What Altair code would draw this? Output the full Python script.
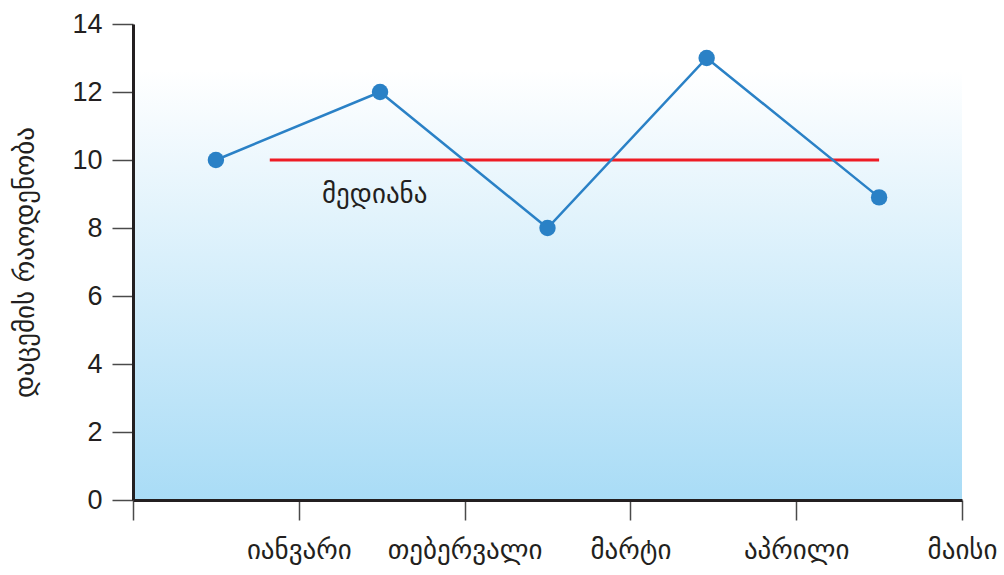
import altair as alt
import pandas as pd

months = ["იანვარი", "თებერვალი", "მარტი", "აპრილი", "მაისი"]
x_pos = [0.5, 1.49, 2.5, 3.46, 4.5]
falls = [10, 12, 8, 13, 8.9]
median_value = 10
median_start, median_end = 0.825, 4.5
median_label = "მედიანა"
y_title = "დაცემის რაოდენობა"

df = pd.DataFrame({"x": x_pos, "y": falls, "month": months})
bg = pd.DataFrame({"x": [0], "x2": [5], "y": [0], "y2": [12.65]})
med = pd.DataFrame({"x": [median_start], "x2": [median_end], "y": [median_value]})
lab = pd.DataFrame({"x": [1.14], "y": [8.98], "t": [median_label]})

label_expr = ("datum.value == 1 ? 'იანვარი' : datum.value == 2 ? 'თებერვალი' : "
              "datum.value == 3 ? 'მარტი' : datum.value == 4 ? 'აპრილი' : "
              "datum.value == 5 ? 'მაისი' : ''")

xscale = alt.Scale(domain=[0, 5], nice=False, zero=False)
yscale = alt.Scale(domain=[0, 14], nice=False)

xaxis = alt.Axis(values=[0, 1, 2, 3, 4, 5], labelExpr=label_expr, title=None,
                 grid=False, domainColor="#231f20", domainWidth=3, domainOpacity=1,
                 tickColor="#4a4a4a", tickWidth=1.5, tickSize=20,
                 labelFont="DejaVu Sans", labelFontSize=27, labelColor="#231f20",
                 labelPadding=17, labelAngle=0, labelFlush=False, labelBound=False,
                 labelOverlap=False, zindex=1)
yaxis = alt.Axis(values=[0, 2, 4, 6, 8, 10, 12, 14], title=y_title, grid=False,
                 domainColor="#231f20", domainWidth=3, domainOpacity=1,
                 tickColor="#4a4a4a", tickWidth=1.5, tickSize=21,
                 labelFont="Liberation Sans", labelFontSize=27, labelColor="#231f20",
                 labelPadding=10, labelFlush=False, zindex=1,
                 titleFont="DejaVu Sans", titleFontSize=27, titleColor="#231f20",
                 titleFontWeight="normal", titleX=-108, titleY=238,
                 titleAngle=270, titleAlign="center", titleBaseline="middle")

background = alt.Chart(bg).mark_rect(
    color=alt.Gradient(gradient="linear",
                       stops=[alt.GradientStop(color="#ffffff", offset=0),
                              alt.GradientStop(color="#a9dcf6", offset=1)],
                       x1=0, x2=0, y1=0, y2=1)
).encode(x=alt.X("x:Q", scale=xscale, axis=xaxis), x2="x2",
         y=alt.Y("y:Q", scale=yscale, axis=yaxis), y2="y2")

median_rule = alt.Chart(med).mark_rule(color="#ee1c25", strokeWidth=3).encode(
    x=alt.X("x:Q", scale=xscale), x2="x2", y=alt.Y("y:Q", scale=yscale))

median_text = alt.Chart(lab).mark_text(
    align="left", baseline="middle", font="DejaVu Sans", fontSize=27, color="#231f20"
).encode(x=alt.X("x:Q", scale=xscale), y=alt.Y("y:Q", scale=yscale), text="t:N")

line = alt.Chart(df).mark_line(color="#2a81c6", strokeWidth=2.5).encode(
    x=alt.X("x:Q", scale=xscale), y=alt.Y("y:Q", scale=yscale))
points = alt.Chart(df).mark_circle(color="#2a81c6", size=270, opacity=1).encode(
    x=alt.X("x:Q", scale=xscale), y=alt.Y("y:Q", scale=yscale))

chart = alt.layer(background, median_rule, median_text, line, points).properties(
    width=829, height=476,
    autosize=alt.AutoSizeParams(type="none"),
    padding={"left": 133, "top": 24, "right": 42, "bottom": 75},
).configure(background="#ffffff").configure_view(stroke=None)

chart.save("out.html", embed_options={"renderer": "svg", "actions": False})
